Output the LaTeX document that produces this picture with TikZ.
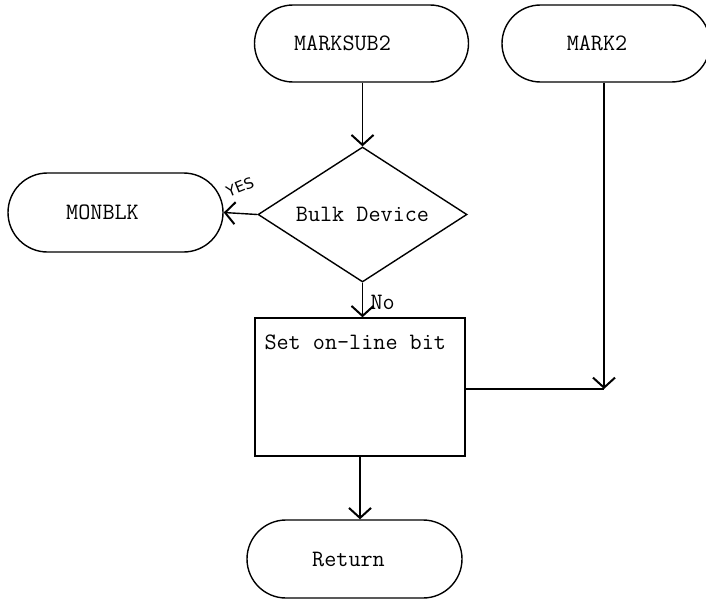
\documentclass[tikz,border=0pt]{standalone}
\usepackage{fontspec}
\newfontfamily\handfnt{DejaVu Sans}
\usetikzlibrary{shapes.misc,shapes.geometric,arrows.meta}
\tikzset{
  lw/.style={line width=1.4pt},
  term/.style={rounded rectangle, draw, lw, inner sep=0pt},
  procbox/.style={rectangle, draw, lw, inner sep=0pt},
  decide/.style={diamond, draw, lw, inner sep=0pt},
  txt/.style={font=\ttfamily\fontsize{23.5}{27}\selectfont},
  arr/.style={lw, -{Straight Barb[length=10pt,width=22pt,line width=2pt]}},
  conn/.style={lw}
}
\begin{document}
\begin{tikzpicture}[x=1pt,y=-1pt]
\useasboundingbox (0,0) rectangle (706,602);
% terminals
\node[term, minimum width=214pt, minimum height=77pt,
      label={[txt, xshift=-19pt]center:MARKSUB2}] (marksub2) at (361.5,43.5) {};
\node[term, minimum width=208pt, minimum height=77pt,
      label={[txt, xshift=-9pt]center:MARK2}] (mark2) at (606,43.5) {};
\node[term, minimum width=215pt, minimum height=79pt,
      label={[txt, xshift=-13pt]center:MONBLK}] (monblk) at (115.5,212.5) {};
\node[term, minimum width=215pt, minimum height=78pt,
      label={[txt, xshift=-6pt]center:Return}] (ret) at (354.5,559) {};
% decision
\node[decide, txt, minimum width=209pt, minimum height=135pt, shape aspect=1.55] (bulk) at (362.5,214.5) {Bulk Device};
% process
\node[procbox, minimum width=210pt, minimum height=138pt,
      label={[txt, anchor=base west, inner sep=0pt, xshift=10pt, yshift=-32pt]north west:Set on-line bit}] (setbit) at (360,387) {};
% labels
\node[font=\handfnt\fontsize{15}{17}\selectfont, rotate=22, inner sep=1pt] (yes) at (240,187) {YES};
% junction
\coordinate (j) at (604,389);
% connectors
\draw[arr] (bulk.north |- marksub2.south) -- (bulk.north);
\draw[arr] (bulk.west) -- (monblk.east);
\draw[arr] (bulk.south) -- (bulk.south |- setbit.north) node[midway, right, xshift=4pt, yshift=-2pt, txt] (no) {No};
\draw[arr] (j |- mark2.south) -- (j);
\draw[conn] (setbit.east |- j) -- (j);
\draw[arr] (setbit.south) -- (setbit.south |- ret.north);
\end{tikzpicture}
\end{document}
